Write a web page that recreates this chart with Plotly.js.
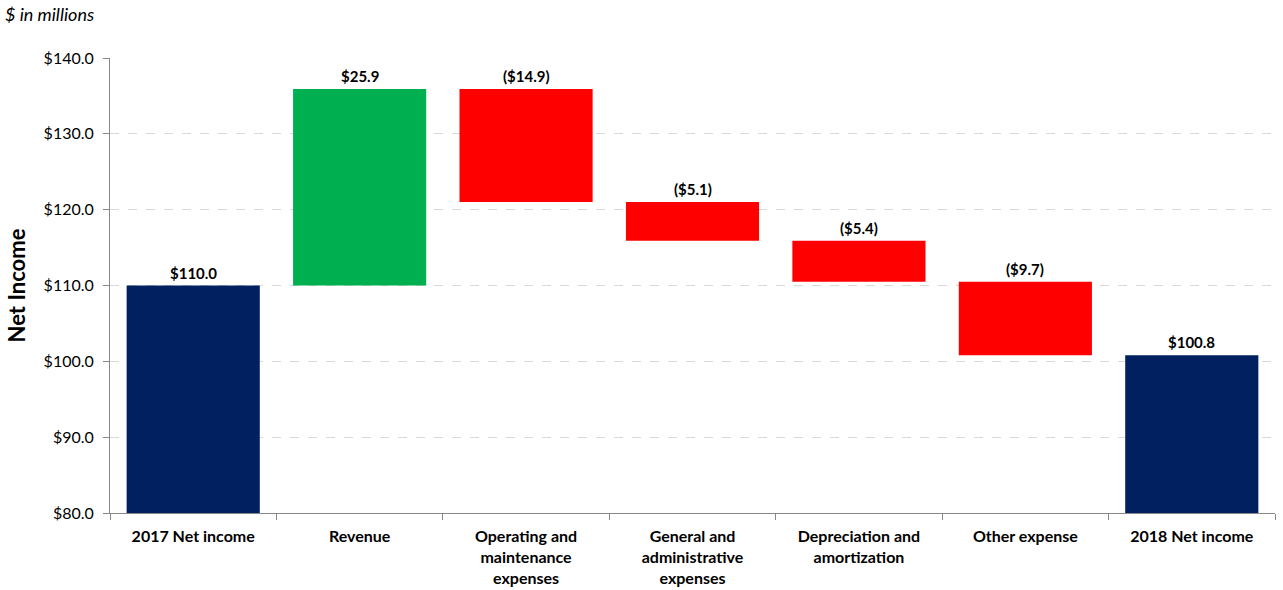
<!DOCTYPE html>
<html><head><meta charset="utf-8">
<script src="https://cdn.plot.ly/plotly-3.0.1.min.js"></script>
<style>html,body{margin:0;padding:0;background:#fff}</style>
</head><body>
<div id="chart" style="width:1283px;height:590px"></div>
<script>
const categories = ["2017 Net income","Revenue","Operating and<br>maintenance<br>expenses","General and<br>administrative<br>expenses","Depreciation and<br>amortization","Other expense","2018 Net income"];
const changes = [110.0, 25.9, -14.9, -5.1, -5.4, -9.7, null];
const kinds = ["total","increase","decrease","decrease","decrease","decrease","total"];
const labels = ["$110.0","$25.9","($14.9)","($5.1)","($5.4)","($9.7)","$100.8"];
const yTickVals = [80,90,100,110,120,130,140];
const yTickText = ["$80.0","$90.0","$100.0","$110.0","$120.0","$130.0","$140.0"];
const colorMap = {total:"#002060", increase:"#00B050", decrease:"#FF0000"};

// compute bases / heights from the data
let running = 0; const bases = [], heights = [], tops = [];
changes.forEach((v,i)=>{
  if (kinds[i]==="total") {
    const val = (v===null) ? running : v;
    bases.push(0); heights.push(val); running = val; tops.push(val);
  } else {
    const start = running, end = running + v;
    bases.push(Math.min(start,end)); heights.push(Math.abs(v)); running = end; tops.push(Math.max(start,end));
  }
});
const xs = categories;
const bar = {type:"bar", x:xs, y:heights, base:bases, width:0.8,
  marker:{color:kinds.map(k=>colorMap[k])}, hoverinfo:"skip"};
const barLabels = xs.map((x,i)=>({x:x, y:tops[i], xref:"x", yref:"y", text:"<b>"+labels[i]+"</b>", showarrow:false,
  yanchor:"bottom", yshift:2, font:{size:15, color:"#000"}}));
const layout = {
  width:1283, height:590, showlegend:false,
  margin:{l:110, r:8, t:58, b:77},
  paper_bgcolor:"#fff", plot_bgcolor:"#fff",
  font:{family:"Lato, sans-serif", color:"#000"},
  xaxis:{type:"category", showline:true, linecolor:"#888", linewidth:1, ticks:"outside", tickson:"boundaries",
    ticklen:6, tickcolor:"#888", showgrid:false, ticklabelstandoff:9, tickfont:{size:16, weight:"bold", color:"#000"}, fixedrange:true},
  yaxis:{range:[80,140], tickvals:yTickVals, ticktext:yTickText, showline:true, linecolor:"#888", ticks:"outside",
    ticklen:6, tickcolor:"#888", showgrid:true, gridcolor:"#d9d9d9", griddash:"dash", zeroline:false, ticklabelstandoff:6,
    tickfont:{size:16, color:"#000"}, title:{text:"Net Income", font:{size:22, weight:"bold"}, standoff:11}},
  annotations:[{text:"<i>$ in millions</i>", xref:"paper", yref:"paper", x:-0.0915, y:1.0967, xanchor:"left", yanchor:"middle",
    showarrow:false, font:{size:18, color:"#000"}}].concat(barLabels)
};
Plotly.newPlot("chart",[bar],layout,{displayModeBar:false, staticPlot:true});
</script>
</body></html>
